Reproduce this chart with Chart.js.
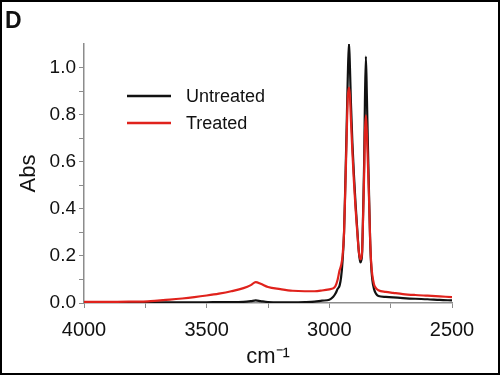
<!DOCTYPE html>
<html><head><meta charset="utf-8">
<script src="https://cdn.jsdelivr.net/npm/chart.js@4"></script>
<style>html,body{margin:0;padding:0;background:#fff}#wrap{width:500px;height:375px;position:relative}</style>
</head><body><div id="wrap"><canvas id="c" width="500" height="375"></canvas></div>
<script>
const panelLabel = 'D';
const seriesNames = ['Untreated', 'Treated'];
const wavenumbers = [4000,3900,3800,3740,3700,3650,3600,3550,3500,3450,3400,3350,3320,3300,3280,3250,3200,3150,3100,3060,3030,3000,2985,2975,2966,2958,2952,2946,2940,2935,2930,2925,2920,2916,2912,2906,2900,2893,2886,2880,2874,2870,2866,2862,2858,2855,2851,2847,2843,2839,2834,2830,2825,2818,2810,2800,2770,2740,2700,2650,2600,2550,2500];
const untreated = [0.003,0.003,0.003,0.003,0.003,0.003,0.003,0.003,0.003,0.004,0.004,0.005,0.008,0.011,0.008,0.004,0.003,0.003,0.004,0.006,0.010,0.014,0.025,0.040,0.060,0.075,0.11,0.18,0.30,0.50,0.72,0.95,1.107,1.00,0.85,0.68,0.55,0.42,0.31,0.22,0.172,0.18,0.22,0.40,0.60,0.85,1.047,0.88,0.68,0.50,0.28,0.17,0.10,0.06,0.04,0.030,0.026,0.024,0.021,0.018,0.016,0.013,0.011];
const treated = [0.005,0.005,0.006,0.007,0.010,0.014,0.019,0.025,0.032,0.040,0.050,0.063,0.076,0.089,0.082,0.068,0.059,0.052,0.050,0.050,0.053,0.058,0.062,0.072,0.10,0.14,0.16,0.20,0.30,0.48,0.68,0.87,0.915,0.88,0.78,0.64,0.52,0.40,0.30,0.22,0.185,0.19,0.23,0.38,0.55,0.72,0.797,0.72,0.60,0.47,0.28,0.18,0.12,0.08,0.063,0.054,0.047,0.043,0.038,0.034,0.031,0.028,0.025];
const xTickValues = [4000,3750,3500,3250,3000,2750,2500];
const xTickLabels = ['4000','','3500','','3000','','2500'];
const yTickValues = [0,0.1,0.2,0.3,0.4,0.5,0.6,0.7,0.8,0.9,1.0];
const yTickLabels = ['0.0','','0.2','','0.4','','0.6','','0.8','','1.0'];
const xTitle = 'cm\u207B\u00B9';
const yTitle = 'Abs';

const colors = ['#111111', '#e0221c'];
const FONT = 'Liberation Sans, Arial, Helvetica, sans-serif';

const decor = {
  id: 'decor',
  afterDraw(chart) {
    const ctx = chart.ctx;
    ctx.save();
    const ds = chart.data.datasets;
    const items = [{i:0, y:96}, {i:1, y:123}];
    ctx.font = '18px ' + FONT;
    ctx.textBaseline = 'middle';
    ctx.textAlign = 'left';
    items.forEach(it => {
      ctx.strokeStyle = ds[it.i].borderColor;
      ctx.lineWidth = 2.5;
      ctx.beginPath(); ctx.moveTo(127, it.y); ctx.lineTo(171, it.y); ctx.stroke();
      ctx.fillStyle = '#111';
      ctx.fillText(ds[it.i].label, 186, it.y + 1);
    });
    ctx.font = 'bold 23px ' + FONT;
    ctx.textBaseline = 'alphabetic';
    ctx.fillStyle = '#111';
    ctx.fillText(panelLabel, 5, 28);
    ctx.strokeStyle = '#000';
    ctx.lineWidth = 2;
    ctx.strokeRect(1, 1, 498, 373);
    ctx.restore();
  }
};

new Chart(document.getElementById('c'), {
  type: 'line',
  data: {
    datasets: [
      {label: seriesNames[0], data: wavenumbers.map((w, i) => ({x: w, y: untreated[i]})), borderColor: colors[0], borderWidth: 2.2, pointRadius: 0, order: 2, cubicInterpolationMode: 'monotone', fill: false},
      {label: seriesNames[1], data: wavenumbers.map((w, i) => ({x: w, y: treated[i]})), borderColor: colors[1], borderWidth: 2.2, pointRadius: 0, order: 1, cubicInterpolationMode: 'monotone', fill: false}
    ]
  },
  options: {
    responsive: false, animation: false, devicePixelRatio: 1,
    layout: {padding: {left: 0, right: 48, top: 44, bottom: 0}},
    plugins: {legend: {display: false}, tooltip: {enabled: false}},
    scales: {
      x: {
        type: 'linear', reverse: true, min: 2500, max: 4000,
        afterBuildTicks: s => { s.ticks = xTickValues.map(v => ({value: v})); },
        afterFit: s => { s.height = 72; },
        ticks: {autoSkip: false, maxRotation: 0, padding: 10, color: '#111', font: {family: FONT, size: 20},
          callback: v => { const k = xTickValues.indexOf(v); return k >= 0 ? xTickLabels[k] : ''; }},
        grid: {display: true, drawOnChartArea: false, drawTicks: true, tickLength: 5, color: '#8c8c8c', lineWidth: 1},
        border: {display: true, color: '#8c8c8c', width: 1.5},
        title: {display: true, text: xTitle, color: '#111', font: {family: FONT, size: 22}, padding: {top: 0, bottom: 5}}
      },
      y: {
        type: 'linear', min: 0, max: 1.1,
        afterBuildTicks: s => { s.ticks = yTickValues.map(v => ({value: v})); },
        afterFit: s => { s.width = 84; },
        ticks: {autoSkip: false, padding: 3, color: '#111', font: {family: FONT, size: 19},
          callback: v => { const k = yTickValues.findIndex(t => Math.abs(t - v) < 1e-9); return k >= 0 ? yTickLabels[k] : ''; }},
        grid: {display: true, drawOnChartArea: false, drawTicks: true, tickLength: 5, color: '#8c8c8c', lineWidth: 1},
        border: {display: true, color: '#8c8c8c', width: 1.5},
        title: {display: true, text: yTitle, color: '#111', font: {family: FONT, size: 22}, padding: {top: 16, bottom: 0}}
      }
    }
  },
  plugins: [decor]
});
</script></body></html>
